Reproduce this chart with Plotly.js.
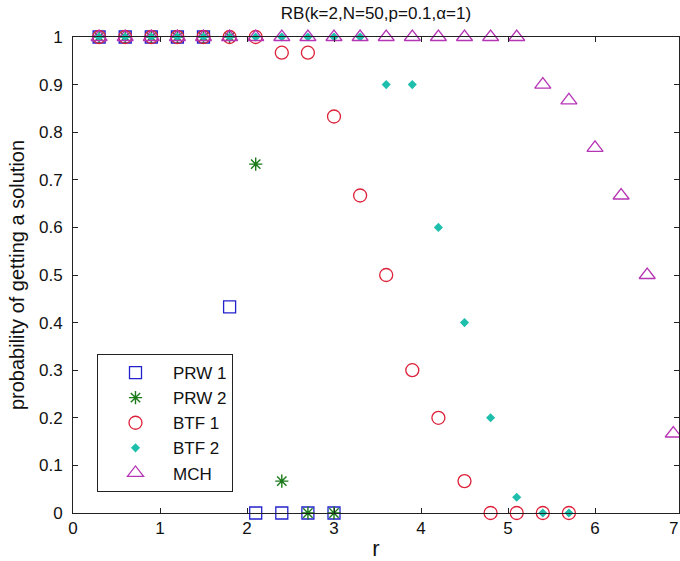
<!DOCTYPE html>
<html>
<head>
<meta charset="utf-8">
<script src="https://cdn.plot.ly/plotly-3.0.1.min.js"></script>
<style>html,body{margin:0;padding:0;background:#fff;}#chart{width:680px;height:561px;}</style>
</head>
<body>
<div id="chart"></div>
<script>
// ---- data ----
const prw1R = [0.3, 0.6, 0.9, 1.2, 1.5, 1.8, 2.1, 2.4, 2.7, 3.0];
const prw1P = [1, 1, 1, 1, 1, 0.433, 0, 0, 0, 0];

const prw2R = [0.3, 0.6, 0.9, 1.2, 1.5, 1.8, 2.1, 2.4, 2.7, 3.0];
const prw2P = [1, 1, 1, 1, 1, 1, 0.733, 0.067, 0, 0];

const btf1R = [0.3, 0.6, 0.9, 1.2, 1.5, 1.8, 2.1, 2.4, 2.7, 3.0, 3.3, 3.6, 3.9, 4.2, 4.5, 4.8, 5.1, 5.4, 5.7];
const btf1P = [1, 1, 1, 1, 1, 1, 1, 0.967, 0.967, 0.833, 0.667, 0.5, 0.3, 0.2, 0.067, 0, 0, 0, 0];

const btf2R = [0.3, 0.6, 0.9, 1.2, 1.5, 1.8, 2.1, 2.4, 2.7, 3.0, 3.3, 3.6, 3.9, 4.2, 4.5, 4.8, 5.1, 5.4, 5.7];
const btf2P = [1, 1, 1, 1, 1, 1, 1, 1, 1, 1, 1, 0.9, 0.9, 0.6, 0.4, 0.2, 0.033, 0, 0];

const mchR = [0.3, 0.6, 0.9, 1.2, 1.5, 1.8, 2.1, 2.4, 2.7, 3.0, 3.3, 3.6, 3.9, 4.2, 4.5, 4.8, 5.1, 5.4, 5.7, 6.0, 6.3, 6.6, 6.9];
const mchP = [1, 1, 1, 1, 1, 1, 1, 1, 1, 1, 1, 1, 1, 1, 1, 1, 1, 0.9, 0.867, 0.767, 0.667, 0.5, 0.167];

const seriesNames = ['PRW 1', 'PRW 2', 'BTF 1', 'BTF 2', 'MCH'];
const xTicks = [0, 1, 2, 3, 4, 5, 6];
const lastXTick = '7';
const yTicks = [0, 0.1, 0.2, 0.3, 0.4, 0.5, 0.6, 0.7, 0.8, 0.9, 1];
const chartTitle = 'RB(k=2,N=50,p=0.1,α=1)';
const xLabel = 'r';
const yLabel = 'probability of getting a solution';

const FONT = 'Arial, "Liberation Sans", sans-serif';

function tr(x, y, name, symbol, color, size, lw) {
  return {
    type: 'scatter', mode: 'markers', x: x, y: y, name: name,
    cliponaxis: false,
    marker: {symbol: symbol, color: color, size: size, line: {color: color, width: lw}}
  };
}

const data = [
  tr(prw1R, prw1P, seriesNames[0], 'square-open', '#2222cc', 12, 1.3),
  tr(prw2R, prw2P, seriesNames[1], 'asterisk-open', '#1a7a1a', 11, 1.4),
  tr(btf1R, btf1P, seriesNames[2], 'circle-open', '#dd2038', 13, 1.3),
  tr(btf2R, btf2P, seriesNames[3], 'diamond', '#1dbfac', 7, 0),
  tr(mchR, mchP, seriesNames[4], 'triangle-up-open', '#b535b5', 14, 1.3)
];

const axisCommon = {
  showgrid: false, zeroline: false, showline: true, mirror: 'ticks',
  linecolor: '#222', linewidth: 1, ticks: 'inside', ticklen: 5,
  tickcolor: '#222', tickfont: {family: FONT, size: 17, color: '#111'}
};

const layout = {
  width: 680, height: 561,
  paper_bgcolor: '#fff', plot_bgcolor: '#fff',
  margin: {l: 73, r: 1, t: 37, b: 48},
  showlegend: true,
  title: {
    text: chartTitle, font: {family: FONT, size: 17, color: '#111'},
    xref: 'paper', x: 0.5, xanchor: 'center',
    yref: 'container', y: 1 - 13 / 561, yanchor: 'middle'
  },
  xaxis: Object.assign({}, axisCommon, {
    range: [0, 606 / 87], tickvals: xTicks, ticktext: xTicks.map(String),
    title: {text: xLabel, font: {family: FONT, size: 22, color: '#111'}, standoff: 4}
  }),
  yaxis: Object.assign({}, axisCommon, {
    range: [0, 1], tickvals: yTicks, ticktext: yTicks.map(String),
    ticklabelstandoff: 6,
    title: {text: yLabel, font: {family: FONT, size: 20, color: '#111'}, standoff: 8}
  }),
  legend: {
    x: 24 / 606, y: (513 - 354) / 476, xanchor: 'left', yanchor: 'top',
    bgcolor: '#fff', bordercolor: '#222', borderwidth: 1,
    font: {family: FONT, size: 17, color: '#111'},
    itemwidth: 65
  },
  annotations: [{
    x: 1, y: 0, xref: 'paper', yref: 'paper', text: lastXTick, showarrow: false,
    xanchor: 'right', yanchor: 'top', yshift: -4, xshift: 1,
    font: {family: FONT, size: 17, color: '#111'}
  }]
};

Plotly.newPlot('chart', data, layout, {displayModeBar: false, staticPlot: true});
</script>
</body>
</html>
